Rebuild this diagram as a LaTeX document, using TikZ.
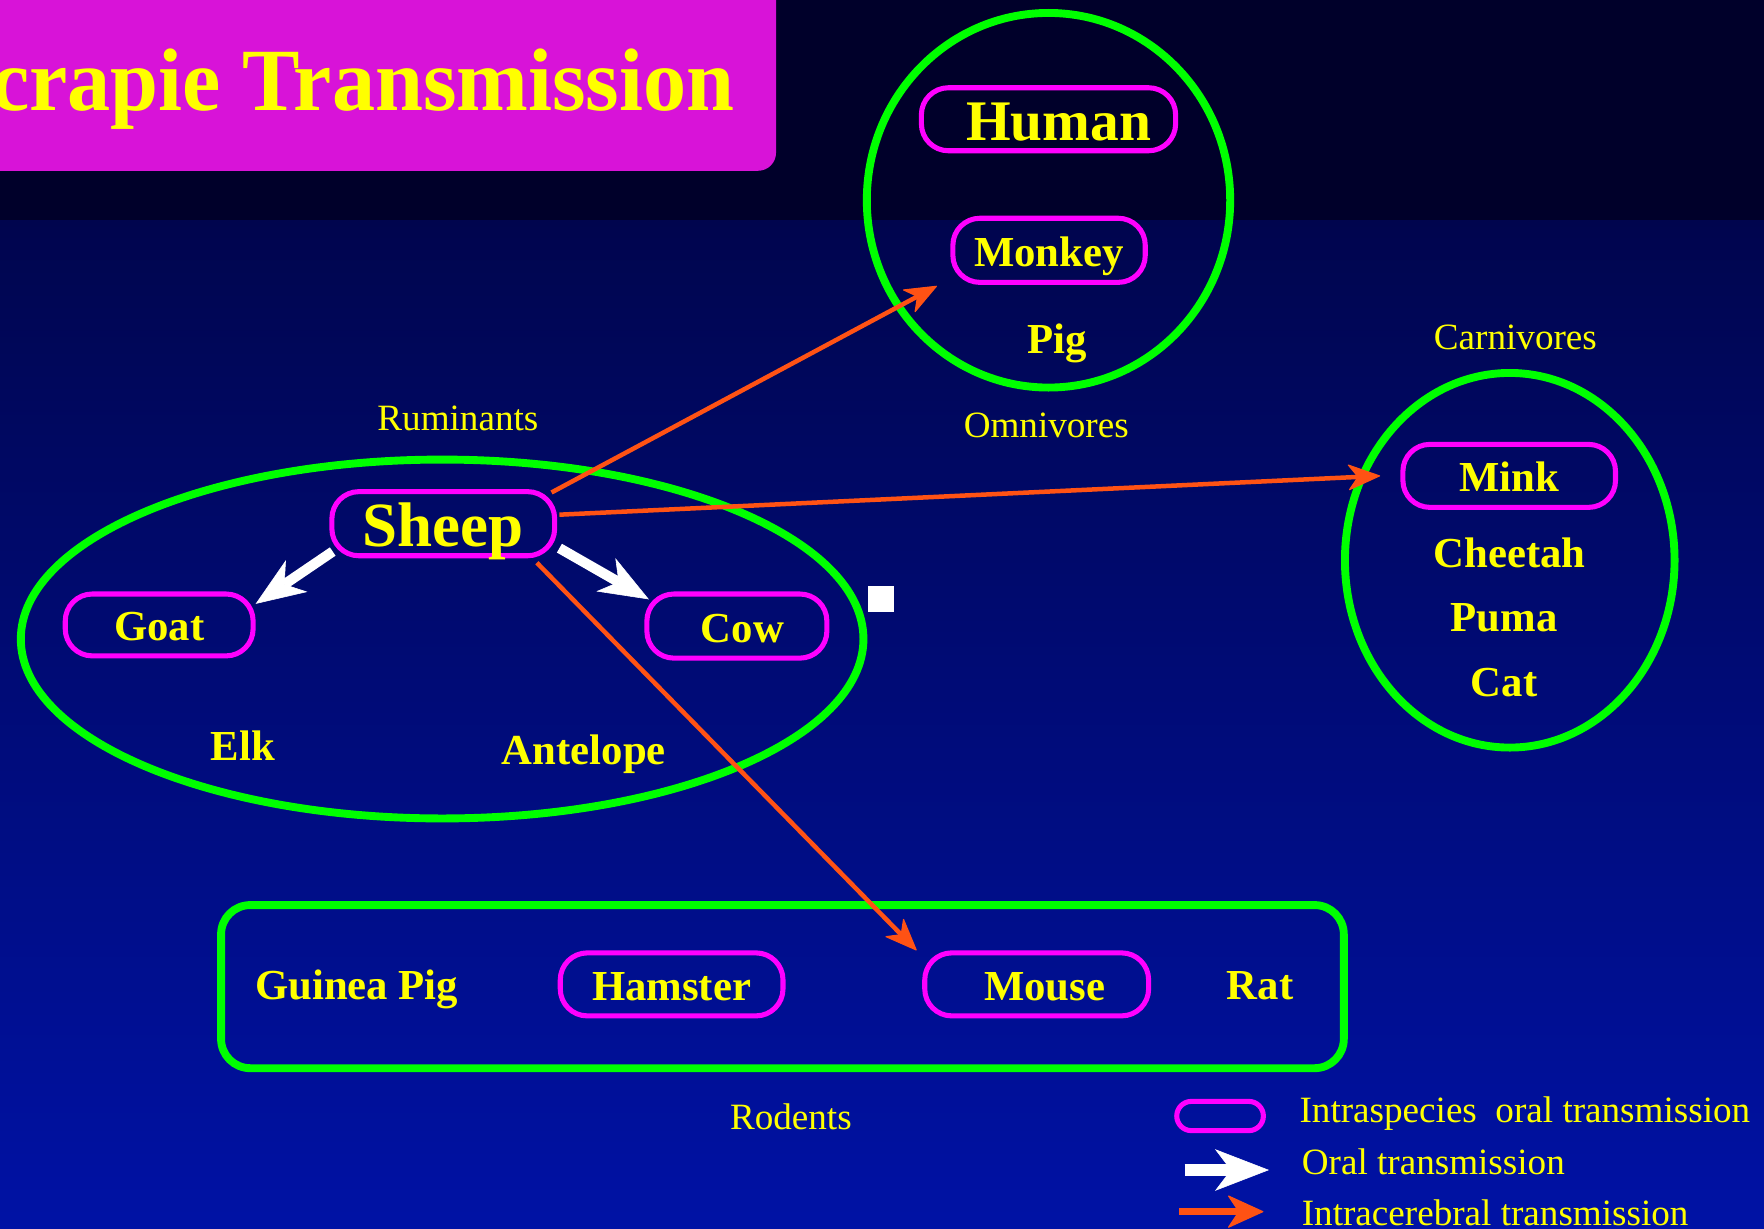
\documentclass[tikz,border=0pt]{standalone}
\usepackage{fontspec}
\setmainfont{Liberation Serif}
\newfontfamily\titlefont[FakeStretch=0.97]{Liberation Serif}
\usetikzlibrary{arrows.meta}
\definecolor{bgtop}{RGB}{0,0,42}
\definecolor{bgmid}{RGB}{0,5,78}
\definecolor{bgbot}{RGB}{0,18,165}
\definecolor{titlemag}{RGB}{216,19,216}
\definecolor{boxmag}{RGB}{255,0,255}
\definecolor{grn}{RGB}{0,255,0}
\definecolor{orng}{RGB}{255,82,20}
\definecolor{ylw}{RGB}{255,255,0}
\begin{document}
\begin{tikzpicture}[x=1pt,y=-1pt,
  sp/.style={draw=boxmag, line width=4.5pt, rounded corners=24pt, inner sep=0pt, text=ylw, font=\bfseries\fontsize{38}{40}\selectfont, text height=28.5pt, text depth=0pt},
  lbl/.style={text=ylw, inner sep=0pt, font=\fontsize{33}{35}\selectfont},
  blbl/.style={text=ylw, inner sep=0pt, font=\bfseries\fontsize{38}{40}\selectfont, text height=28.5pt, text depth=0pt},
  grp/.style={draw=grn, line width=7pt},
  oral/.style={draw=white, line width=9pt, -{Stealth[length=44pt,width=34pt,inset=13pt,line width=0.5pt]}},
  cereb/.style={draw=orng, line width=4pt, -{Stealth[length=30pt,width=24pt,inset=9pt,round,line width=1pt]}},
]
\useasboundingbox (0,0) rectangle (1568,1092);
\clip (0,0) rectangle (1568,1092);
% background
\fill[bgtop] (0,0) rectangle (1568,196);
\shade[top color=bgmid, bottom color=bgbot] (0,196) rectangle (1568,1092);
% title
\node[fill=titlemag, rounded corners=16pt, anchor=south east, minimum width=760pt, minimum height=200pt, inner sep=0pt] (titlebox) at (690,152) {};
\node[anchor=base east, text=ylw, inner sep=0pt, font=\titlefont\bfseries\fontsize{79}{82}\selectfont] (title) at (653,98) {crapie Transmission};
% groups
\draw[grp] (932,178) ellipse [x radius=161.5, y radius=166.5];
\draw[grp] (1342,498) ellipse [x radius=146.5, y radius=166.5];
\draw[grp] (393,568) ellipse [x radius=374.5, y radius=159.5];
\draw[grp, rounded corners=26pt] (196.5,804.5) rectangle (1194.5,949.5);
% omnivores
\node[sp, minimum width=226pt, minimum height=56pt, font=\bfseries\fontsize{51}{53}\selectfont, text height=38pt] (human) at (932,106) {\hspace*{18pt}Human};
\node[sp, minimum width=171pt, minimum height=57pt] (monkey) at (932.5,222.5) {Monkey};
\node[blbl] (pig) at (940,300) {Pig};
\node[lbl] (omni) at (930,378) {Omnivores};
% carnivores
\node[lbl] (carni) at (1347,300) {Carnivores};
\node[sp, minimum width=189pt, minimum height=56pt] (mink) at (1341.5,423) {Mink};
\node[blbl] (cheetah) at (1342,490) {Cheetah};
\node[blbl] (puma) at (1337,547) {Puma};
\node[blbl] (cat) at (1337,605) {Cat};
% ruminants
\node[lbl] (rumi) at (407,372) {Ruminants};
\node[sp, minimum width=198pt, minimum height=57pt, font=\bfseries\fontsize{56}{58}\selectfont, text height=41pt] (sheep) at (394,465.5) {Sheep};
\node[sp, minimum width=167pt, minimum height=55pt] (goat) at (141.5,555.5) {Goat};
\node[sp, minimum width=160pt, minimum height=57pt] (cow) at (655,556.5) {\hspace*{10pt}Cow};
\node[blbl] (elk) at (216,662) {Elk};
\node[blbl] (antelope) at (519,665) {Antelope};
\node[fill=white, minimum size=23pt, inner sep=0pt] (sq) at (783,532.5) {};
% rodents
\node[blbl] (guinea) at (317,874) {Guinea Pig};
\node[sp, minimum width=198pt, minimum height=56pt] (hamster) at (597,875) {Hamster};
\node[sp, minimum width=199pt, minimum height=56pt] (mouse) at (921.5,875) {\hspace*{14pt}Mouse};
\node[blbl] (rat) at (1120,874) {Rat};
\node[lbl] (rodents) at (703,993) {Rodents};
% arrows
\draw[oral] ([xshift=3pt,yshift=6pt]sheep.south west) -- ([yshift=-11pt]goat.north east);
\draw[oral] ([xshift=2pt,yshift=9pt]sheep.south east) -- ([xshift=4pt,yshift=-7pt]cow.north west);
\draw[cereb] ([xshift=-5pt,yshift=-3pt]sheep.north east) -- ([xshift=-12pt,yshift=-1pt]monkey.south west);
\draw[cereb] ([xshift=2pt,yshift=8pt]sheep.east) -- ([xshift=-18pt]mink.west);
\draw[cereb] ([xshift=-18pt,yshift=-4pt]sheep.south east) -- ([xshift=-5pt]mouse.north west);
% legend
\node[draw=boxmag, line width=4.5pt, rounded corners=13pt, minimum width=77pt, minimum height=26pt, inner sep=0pt] (legbox) at (1084.5,992) {};
\node[lbl, anchor=west] (leg1) at (1155,990) {Intraspecies\ \ oral transmission};
\coordinate (wa1) at (1053,1040);
\coordinate (wa2) at (1128,1040);
\draw[draw=white, line width=10.5pt, -{Stealth[length=48pt,width=37pt,inset=14pt,line width=0.5pt]}] (wa1) -- (wa2);
\node[lbl, anchor=west] (leg2) at (1157,1033) {Oral transmission};
\coordinate (oa1) at (1048,1077);
\coordinate (oa2) at (1123,1077);
\draw[draw=orng, line width=6pt, -{Stealth[length=33pt,width=30pt,inset=10pt,round,line width=1pt]}] (oa1) -- (oa2);
\node[lbl, anchor=west] (leg3) at (1157,1078) {Intracerebral transmission};
\end{tikzpicture}
\end{document}
